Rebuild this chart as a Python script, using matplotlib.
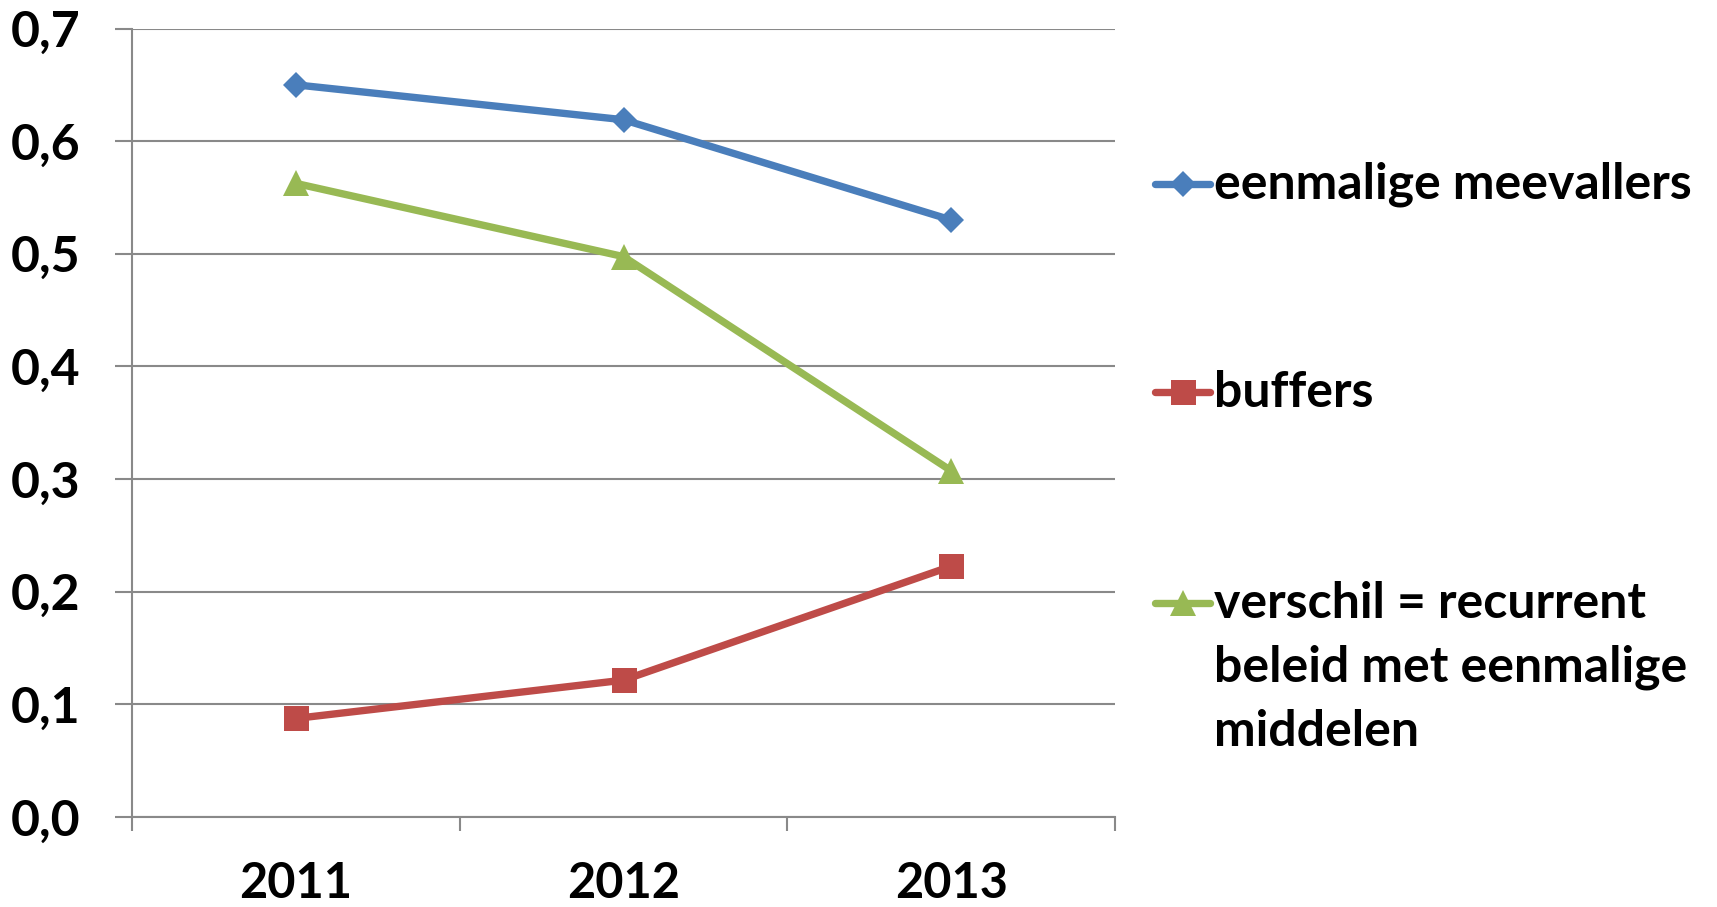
import numpy as np
import matplotlib
matplotlib.use('Agg')
import matplotlib.pyplot as plt
from matplotlib.lines import Line2D

# Data
years = ['2011', '2012', '2013']
meevallers = [0.650, 0.619, 0.530]
buffers = [0.0875, 0.1215, 0.2226]
verschil = [0.5625, 0.4975, 0.3074]
y_ticks = [0.0, 0.1, 0.2, 0.3, 0.4, 0.5, 0.6, 0.7]
labels = ['eenmalige meevallers', 'buffers',
          'verschil = recurrent\nbeleid met eenmalige\nmiddelen']

colors = ['#4A7EBB', '#BE4B48', '#98B954']
markers = ['D', 's', '^']
msizes = [13.5, 18, 19]
series = [meevallers, buffers, verschil]

plt.rcParams['font.family'] = ['Lato', 'DejaVu Sans']
plt.rcParams['font.weight'] = 'bold'

W, H = 1717, 907
fig = plt.figure(figsize=(W / 100, H / 100), dpi=100)
ax = fig.add_axes([132 / W, 1 - 817 / H, (1115 - 132) / W, (817 - 28.5) / H])

x = np.arange(len(years)) + 0.5
for vals, c, m, ms in zip(series, colors, markers, msizes):
    ax.plot(x, vals, color=c, lw=5.3, marker=m, markersize=ms,
            markeredgewidth=0, solid_joinstyle='round')

ax.set_xlim(0, 3)
ax.set_ylim(0, 0.7)
grid_c = '#898989'

# y axis
ax.set_yticks(y_ticks)
ax.set_yticklabels([f'{v:.1f}'.replace('.', ',') for v in y_ticks])
ax.tick_params(axis='y', length=12, width=1.5, color=grid_c, pad=25,
               labelsize=36, direction='out')
ax.yaxis.grid(True, color=grid_c, lw=1.5)

# x axis: major ticks between categories, labels at centres
ax.set_xticks([0, 1, 2, 3])
ax.set_xticklabels([])
ax.set_xticks(x, minor=True)
ax.set_xticklabels(years, minor=True)
ax.tick_params(axis='x', which='major', length=10, width=1.5, color=grid_c,
               direction='out')
ax.tick_params(axis='x', which='minor', length=0, pad=32, labelsize=35)

for s in ['top', 'right']:
    ax.spines[s].set_visible(False)
for s in ['left', 'bottom']:
    ax.spines[s].set_color(grid_c)
    ax.spines[s].set_linewidth(1.5)
ax.set_axisbelow(True)

# legend drawn by hand (Excel style, handle aligned with first text line)
leg_y = [184, 392, 603]
line_pitch = 64
for lab, c, m, ms, yy in zip(labels, colors, markers, msizes, leg_y):
    fy = 1 - yy / H
    fig.add_artist(Line2D([1155 / W, 1210 / W], [fy, fy], color=c, lw=5.3,
                          solid_capstyle='round', transform=fig.transFigure))
    fig.add_artist(Line2D([1182.5 / W], [fy], color=c, marker=m, markersize=ms,
                          markeredgewidth=0, transform=fig.transFigure))
    for i, part in enumerate(lab.split('\n')):
        fig.text(1214 / W, 1 - (yy + i * line_pitch) / H, part, fontsize=36,
                 fontweight='bold', va='center', ha='left')

plt.savefig('out.png', dpi=100)
plt.close()
